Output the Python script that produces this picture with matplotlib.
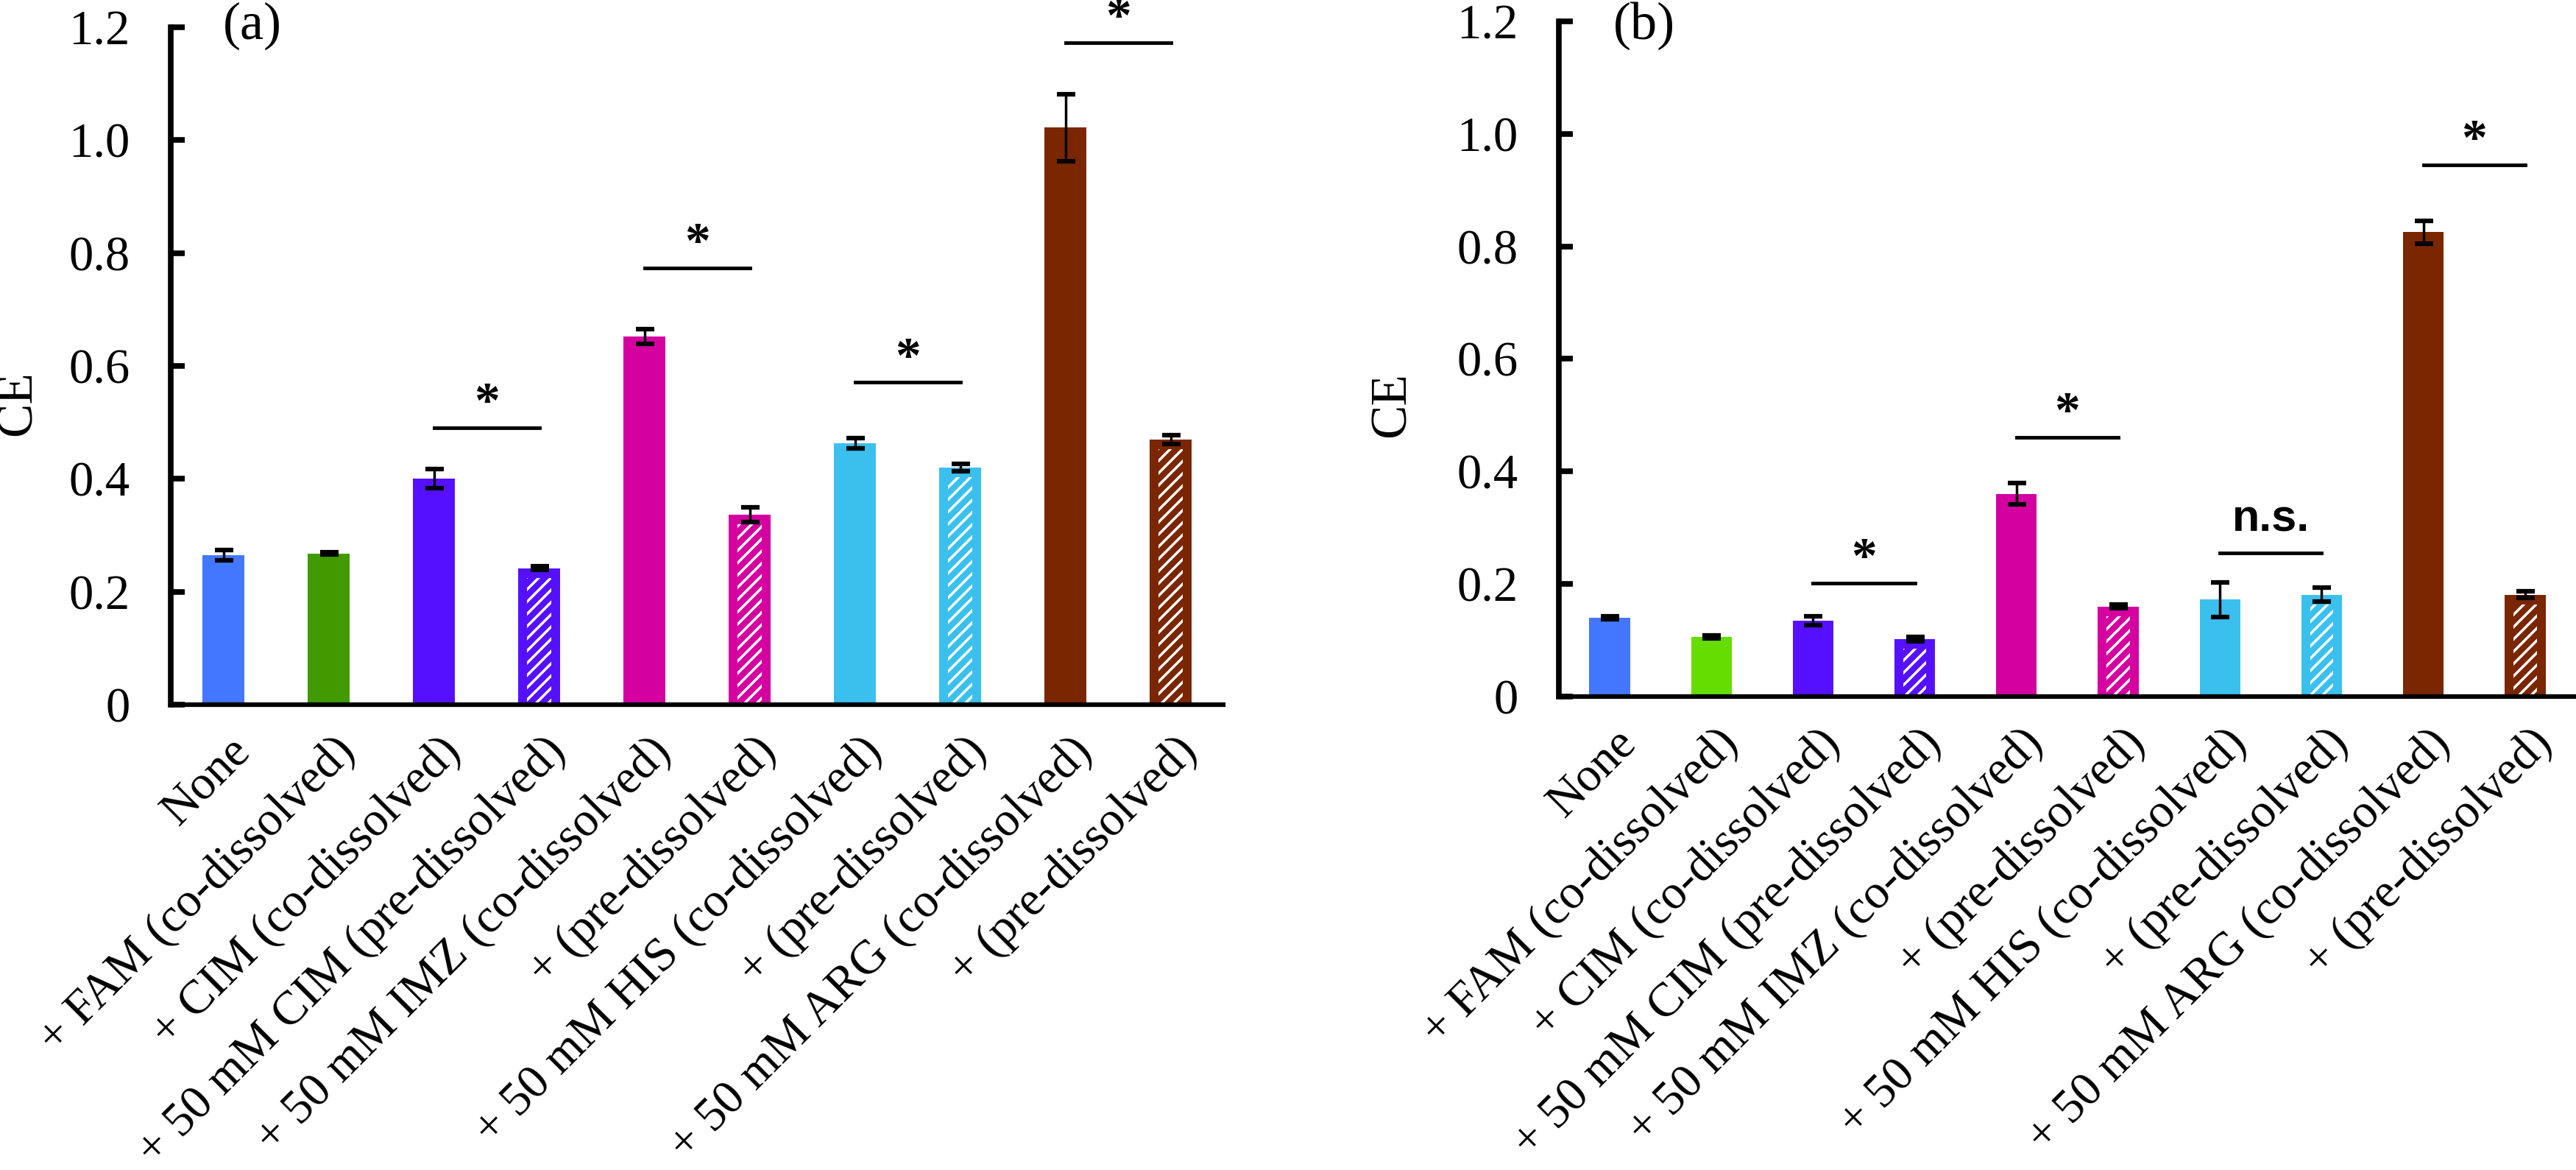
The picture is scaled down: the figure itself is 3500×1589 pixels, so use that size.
import matplotlib
matplotlib.use("Agg")
import matplotlib.pyplot as plt
from matplotlib.transforms import ScaledTranslation
import numpy as np

plt.rcParams['font.family'] = ['Liberation Serif', 'DejaVu Serif']
plt.rcParams['hatch.linewidth'] = 2.5

labels = ["None", "+ FAM (co-dissolved)", "+ CIM (co-dissolved)",
          "+ 50 mM CIM (pre-dissolved)", "+ 50 mM IMZ (co-dissolved)",
          "+ (pre-dissolved)", "+ 50 mM HIS (co-dissolved)",
          "+ (pre-dissolved)", "+ 50 mM ARG (co-dissolved)",
          "+ (pre-dissolved)"]

hatched = [False, False, False, True, False, True, False, True, False, True]

colors_a = ["#4477FF", "#409A00", "#5511FF", "#5511FF", "#D500A0",
            "#D500A0", "#3BC0EE", "#3BC0EE", "#7A2600", "#7A2600"]
colors_b = ["#4477FF", "#66DD00", "#5511FF", "#5511FF", "#D500A0",
            "#D500A0", "#3BC0EE", "#3BC0EE", "#7A2600", "#7A2600"]

ce_a = [0.265, 0.268, 0.400, 0.242, 0.652, 0.336, 0.463, 0.420, 1.022, 0.470]
err_a = [0.009, 0.002, 0.017, 0.003, 0.013, 0.013, 0.009, 0.006, 0.059, 0.008]

ce_b = [0.140, 0.106, 0.135, 0.102, 0.360, 0.160, 0.172, 0.181, 0.825, 0.181]
err_b = [0.003, 0.003, 0.008, 0.004, 0.019, 0.003, 0.031, 0.012, 0.020, 0.006]

# significance brackets: (left bar, right bar, line height, mark)
sig_a = [(2, 3, 0.491, "*"), (4, 5, 0.774, "*"), (6, 7, 0.571, "*"), (8, 9, 1.173, "*")]
sig_b = [(2, 3, 0.202, "*"), (4, 5, 0.461, "*"), (6, 7, 0.255, "n.s."), (8, 9, 0.945, "*")]

fig = plt.figure(figsize=(35, 15.89), dpi=100)
ax_a = fig.add_axes([0.0663, 0.3977, 0.4086, 0.579])
ax_b = fig.add_axes([0.6051, 0.4047, 0.3949, 0.5771])

bar_w = 0.4


def draw_panel(ax, values, errors, colors, sig):
    x = np.arange(len(values))
    ax.bar(x, values, width=bar_w, color=colors, linewidth=0, zorder=2)
    for i, v in enumerate(values):
        if hatched[i]:
            ax.bar(x[i], v - 0.017, width=bar_w * 0.57, facecolor="none",
                   edgecolor="white", linewidth=0, hatch="//", zorder=3)
    ax.errorbar(x, values, yerr=errors, fmt="none", ecolor="black",
                elinewidth=2.5, capsize=9, capthick=4.5, zorder=4)

    for i0, i1, y, mark in sig:
        ax.plot([i0, i1], [y, y], color="black", lw=3.5, clip_on=False, zorder=5)
        if mark == "*":
            ax.text((i0 + i1) / 2, y + 0.040, mark, ha="center", va="center",
                    fontsize=50, fontweight="bold", clip_on=False)
        else:
            ax.text((i0 + i1) / 2, y + 0.022, mark, ha="center", va="bottom",
                    fontsize=44, fontweight="bold", family="Liberation Sans",
                    clip_on=False)

    ax.set_xlim(-0.5, len(values) - 0.5)
    ax.set_ylim(0, 1.2)
    ax.set_yticks([0, 0.2, 0.4, 0.6, 0.8, 1.0, 1.2])
    ax.set_yticklabels(["0", "0.2", "0.4", "0.6", "0.8", "1.0", "1.2"])
    ax.set_xticks(x)
    ax.set_xticklabels(labels, rotation=45, ha="right", va="top",
                       rotation_mode="anchor")
    ax.tick_params(axis="y", direction="in", length=14, width=5.5,
                   labelsize=48, pad=40)
    ax.tick_params(axis="x", length=0, labelsize=47, pad=24)
    shift = ScaledTranslation(0.06, 0, fig.dpi_scale_trans)
    for lbl in ax.get_xticklabels():
        lbl.set_transform(lbl.get_transform() + shift)

    ax.spines["top"].set_visible(False)
    ax.spines["right"].set_visible(False)
    ax.spines["left"].set_linewidth(5.5)
    ax.spines["bottom"].set_linewidth(4.5)
    ax.spines["left"].set_zorder(6)
    ax.spines["bottom"].set_zorder(6)


draw_panel(ax_a, ce_a, err_a, colors_a, sig_a)
draw_panel(ax_b, ce_b, err_b, colors_b, sig_b)

fig.text(25 / 3500, 1 - 548 / 1589, "CE", rotation=90, ha="center",
         va="center", fontsize=50)
fig.text(1892 / 3500, 1 - 550 / 1589, "CE", rotation=90, ha="center",
         va="center", fontsize=50)
fig.text(343 / 3500, 1 - 35 / 1589, "(a)", ha="center", va="center", fontsize=52)
fig.text(2234 / 3500, 1 - 35 / 1589, "(b)", ha="center", va="center", fontsize=52)

fig.savefig("out.png", dpi=100, facecolor="white")
